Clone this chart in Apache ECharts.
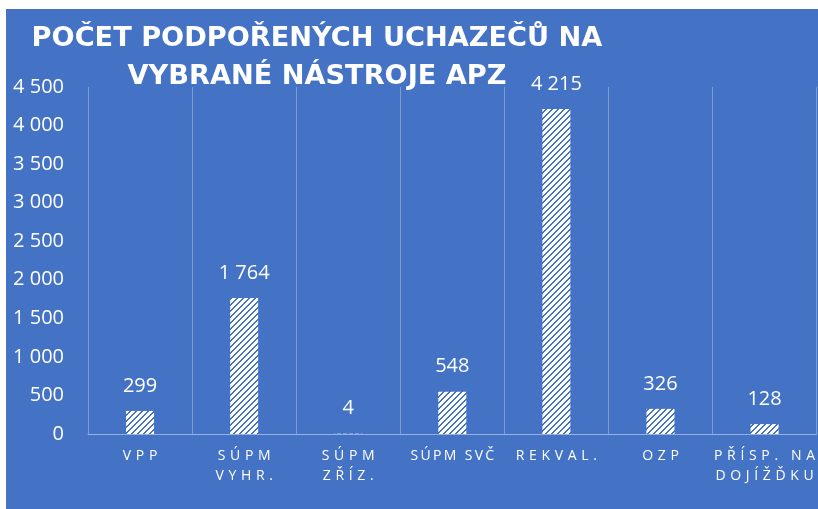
<!DOCTYPE html>
<html><head><meta charset="utf-8">
<script src="https://cdn.jsdelivr.net/npm/echarts@6/dist/echarts.min.js"></script>
<style>html,body{margin:0;padding:0;background:#fff}#c{width:818px;height:509px}</style>
</head><body><div id="c"></div>
<script>
const titleLines = ['POČET PODPOŘENÝCH UCHAZEČŮ NA', 'VYBRANÉ NÁSTROJE APZ'];
const categories = ['VPP', 'SÚPM\nVYHR.', 'SÚPM\nZŘÍZ.', 'SÚPM SVČ', 'REKVAL.', 'OZP', 'PŘÍSP. NA\nDOJÍŽĎKU'];
const values = [299, 1764, 4, 548, 4215, 326, 128];
const yMin = 0, yMax = 4500, yStep = 500;

const BLUE = '#4472C4';
function makePattern() {
  const c = document.createElement('canvas');
  c.width = 6; c.height = 6;
  const ctx = c.getContext('2d');
  const img = ctx.createImageData(6, 6);
  for (let y = 0; y < 6; y++) for (let x = 0; x < 6; x++) {
    const i = (y * 6 + x) * 4;
    const blue = ((x + y) % 6) < 2;
    img.data[i] = blue ? 68 : 255;
    img.data[i + 1] = blue ? 114 : 255;
    img.data[i + 2] = blue ? 196 : 255;
    img.data[i + 3] = 255;
  }
  ctx.putImageData(img, 0, 0);
  return c;
}
// imitate the letter-spaced axis labels of the original
function spaced(cat) {
  const multi = cat.includes('\n');
  return cat.split('\n').map(line => {
    let gap = '\u2004';
    if (!multi && line.includes(' ')) gap = '\u2006';
    return line.split(' ').map(w => Array.from(w).join(gap)).join(gap + ' ' + gap);
  }).join('\n');
}
function fmt(v) {
  return String(v).replace(/\B(?=(\d{3})+(?!\d))/g, ' ');
}

const chart = echarts.init(document.getElementById('c'), null, { renderer: 'canvas' });
chart.setOption({
  backgroundColor: 'transparent',
  animation: false,
  graphic: [
    { type: 'rect', z: -10, silent: true, shape: { x: 6, y: 9, width: 812, height: 500 }, style: { fill: BLUE } },
    { type: 'text', z: 10, x: 317, y: 58, style: {
        text: titleLines.join('\n'), fill: '#fff', align: 'center', verticalAlign: 'middle',
        fontFamily: 'DejaVu Sans', fontWeight: 'bold', fontSize: 27.2, lineHeight: 38 } }
  ],
  grid: { left: 88, right: 0, top: 87, bottom: 75, containLabel: false },
  xAxis: {
    type: 'category', data: categories,
    axisLine: { show: true, lineStyle: { color: 'rgba(255,255,255,0.45)', width: 1 } },
    axisTick: { show: false },
    splitLine: { show: true, lineStyle: { color: 'rgba(255,255,255,0.3)', width: 1 } },
    axisLabel: { interval: 0, color: '#fff', fontFamily: 'Open Sans', fontSize: 14, lineHeight: 20, margin: 12,
      formatter: v => spaced(v) }
  },
  yAxis: {
    type: 'value', min: yMin, max: yMax, interval: yStep,
    axisLine: { show: false }, axisTick: { show: false }, splitLine: { show: false },
    axisLabel: { color: '#fff', fontFamily: 'Open Sans', fontSize: 20, margin: 24, formatter: v => fmt(v) }
  },
  series: [{
    type: 'bar', data: values, barWidth: 28,
    itemStyle: { color: { image: makePattern(), repeat: 'repeat' } },
    label: { show: true, position: 'top', distance: 15, color: '#fff', fontFamily: 'Open Sans', fontSize: 20,
      formatter: p => fmt(p.value) }
  }]
});
</script></body></html>
